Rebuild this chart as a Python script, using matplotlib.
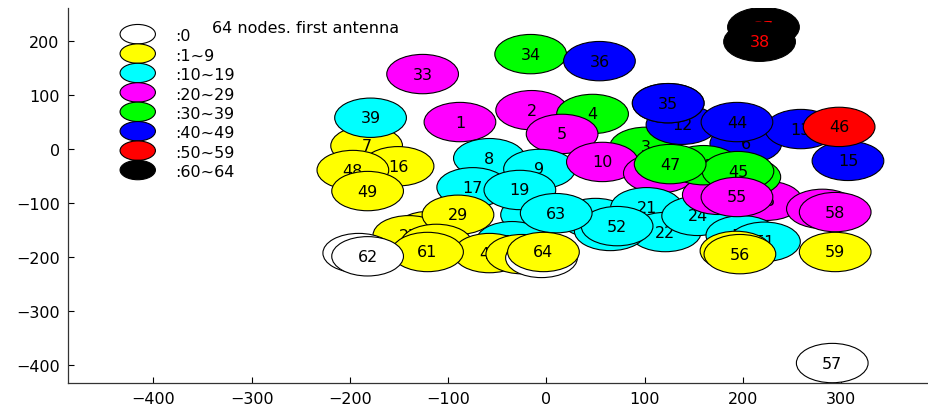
import matplotlib
matplotlib.use("Agg")
import matplotlib.pyplot as plt
from matplotlib.patches import Circle

# node positions (node n is at index n-1)
node_x = [-88, -15, 101, 47, 16, 203, -183, -58, -7, 57,
          -10, 138, 259, -35, 307, -151, -75, 50, -27, 115,
          102, 121, -119, 154, 224, 175, -140, 281, -90, 160,
          202, 124, -126, -16, 124, 54, 221, 217, -179, 65,
          -112, -58, -25, 194, 195, 298, 126, -197, -182, 199,
          222, 72, -5, 193, 194, 197, 291, 294, 294, -191,
          -121, -182, 10, -3]
node_y = [50, 72, 4, 65, 28, 10, 6, -17, -37, -24,
          -122, 45, 37, -171, -22, -32, -71, -128, -76, -45,
          -108, -154, -152, -124, -96, -85, -160, -111, -122, -30,
          -52, 85, 139, 176, 85, 163, 226, 199, 58, -152,
          -176, -193, -195, 50, -41, 41, -28, -39, -78, -160,
          -172, -143, -202, -189, -89, -195, -397, -117, -191, -193,
          -191, -199, -119, -191]
# count class of each node (index into class_labels)
node_class = [3, 3, 4, 4, 3, 5, 1, 2, 2, 3,
              2, 5, 5, 2, 5, 1, 2, 2, 2, 3,
              2, 2, 1, 2, 3, 3, 1, 3, 1, 4,
              4, 5, 3, 4, 5, 5, 7, 7, 2, 2,
              1, 1, 1, 5, 4, 6, 4, 1, 1, 2,
              2, 2, 0, 1, 3, 1, 0, 3, 1, 0,
              1, 0, 2, 1]

class_labels = [":0", ":1~9", ":10~19", ":20~29", ":30~39", ":40~49", ":50~59", ":60~64"]
class_colors = ["white", "yellow", "cyan", "magenta", "lime", "blue", "red", "black"]

x_ticks = [-400, -300, -200, -100, 0, 100, 200, 300]
y_ticks = [200, 100, 0, -100, -200, -300, -400]

plt.rcParams["font.family"] = ["DejaVu Sans"]

fig = plt.figure(figsize=(9.29, 4.10), dpi=100)
ax = fig.add_axes([0.0732, 0.0634, 0.9268, 0.9146])

# nodes drawn in order, each label just above its own disc
r = 36.5
for i, (x, y, c) in enumerate(zip(node_x, node_y, node_class)):
    ax.add_patch(Circle((x, y), r, facecolor=class_colors[c], edgecolor="black",
                        linewidth=0.8, zorder=2 + 2 * i))
    ax.text(x, y, str(i + 1), ha="center", va="center", fontsize=11.5,
            color="red" if c == 7 else "black", zorder=3 + 2 * i)

# legend drawn inside the axes
for k, (lab, col) in enumerate(zip(class_labels, class_colors)):
    ly = 213 - 36 * k
    ax.add_patch(Circle((-416, ly), 18, facecolor=col, edgecolor="black",
                        linewidth=0.8, zorder=200))
    ax.text(-378, ly - 3, lab, ha="left", va="center", fontsize=11.5, zorder=200)

ax.text(-340, 226, "64 nodes. first antenna", ha="left", va="center", fontsize=11.5, zorder=200)

ax.set_xlim(-487, 389.5)
ax.set_ylim(-434, 261.5)
ax.set_xticks(x_ticks)
ax.set_yticks(y_ticks)
ax.tick_params(direction="in", length=4, width=0.8, labelsize=11.5, pad=6)
ax.spines["top"].set_visible(False)
ax.spines["right"].set_visible(False)
for s in ("left", "bottom"):
    ax.spines[s].set_linewidth(0.9)
    ax.spines[s].set_color("#333333")

fig.savefig("out.png", dpi=100)
